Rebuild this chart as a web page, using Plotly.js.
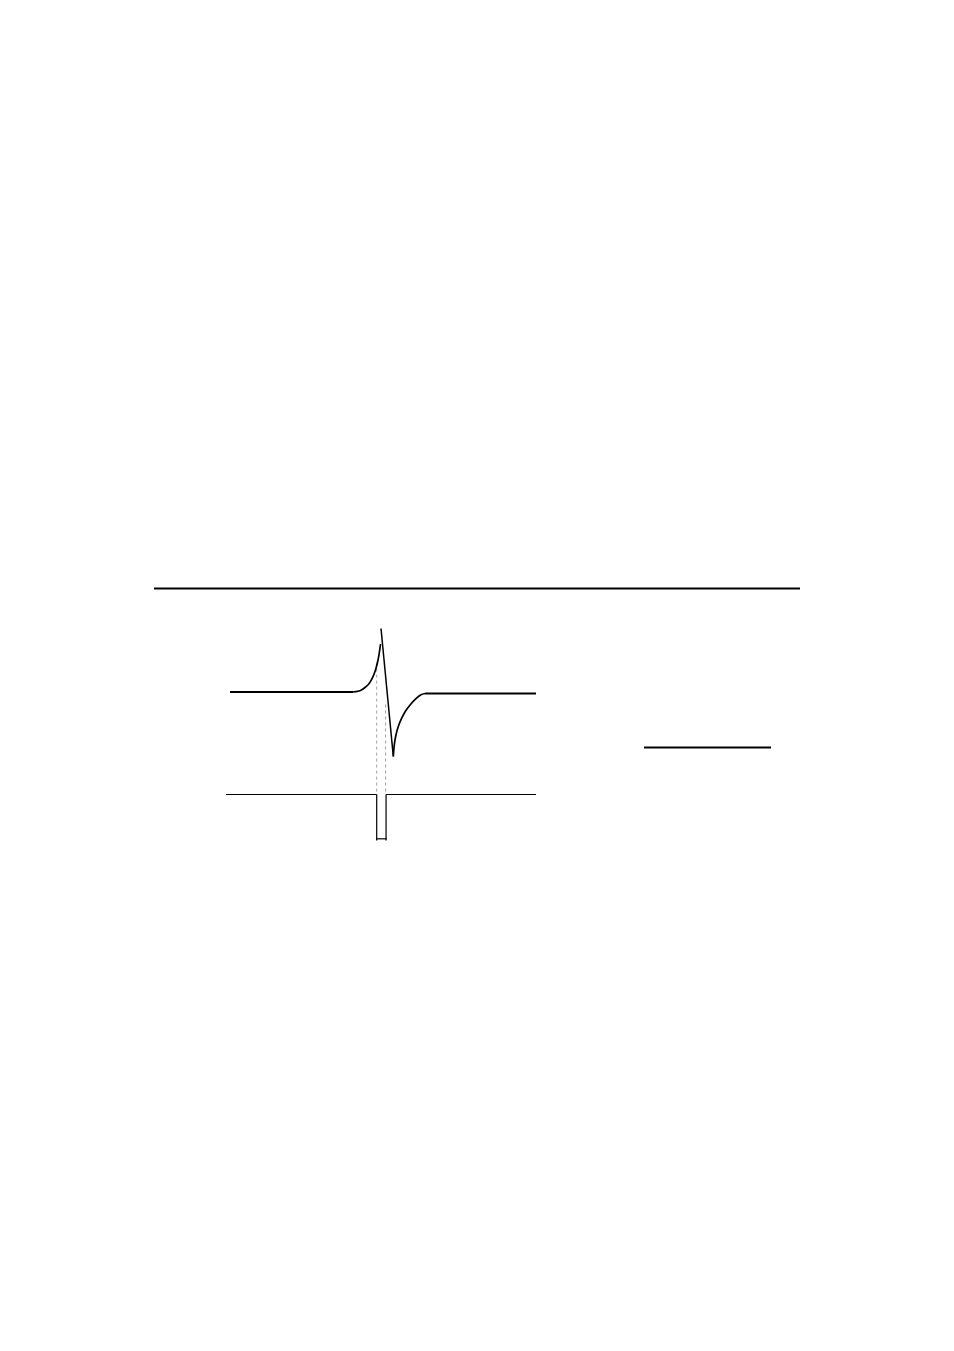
<!DOCTYPE html>
<html>
<head>
<meta charset="utf-8">
<script src="https://cdn.plot.ly/plotly-3.0.1.min.js"></script>
<style>html,body{margin:0;padding:0;background:#fff;}#chart{width:954px;height:1351px;}</style>
</head>
<body>
<div id="chart"></div>
<script>
// Response waveform (time units, amplitude units; baseline = 0)
const riseT = [0, 40.2, 42.48, 44.12, 45.42, 46.50, 47.39, 48.14, 48.69, 49.2];
const riseV = [0, 0, 0.02, 0.075, 0.137, 0.23, 0.342, 0.48, 0.62, 0.8];
const spikeT = [49.35, 53.37];
const spikeV = [1.058, -1.075];
const recoveryT = [53.37, 53.69, 54.25, 55.0, 56.11, 57.42, 59.05, 60.69, 62.42, 63.73, 100];
const recoveryV = [-1.075, -0.88, -0.713, -0.575, -0.437, -0.313, -0.203, -0.113, -0.045, -0.025, -0.025];

// Stimulus pulse trace (level offset below the response)
const stimLeftT = [-1.31, 47.94];
const stimRightT = [51.0, 100];
const stimLevel = -1.708;
const pulseEdgesT = [47.94, 51.0];
const pulseBottom = -2.475;
const pulseWidthT = [47.71, 51.21];
const pulseWidthLevel = -2.447;

// Guide (dotted) lines from the response down to the stimulus level
const guideT = [47.94, 50.85];
const guideTop = [0.49, -0.208];

// Separator rule above the figure and the short reference bar at right
const ruleT = [-24.84, 186.27];
const ruleLevel = 1.725;
const barT = [135.29, 176.80];
const barLevel = -0.925;

const traces = [];
const black = '#000';

traces.push({x: ruleT, y: [ruleLevel, ruleLevel], mode: 'lines', line: {color: black, width: 2.2}});
guideT.forEach((t, i) => traces.push({x: [t, t], y: [guideTop[i], stimLevel], mode: 'lines', line: {color: '#a0a0a0', width: 1, dash: 'dot'}}));
traces.push({x: riseT.slice(0, 2), y: riseV.slice(0, 2), mode: 'lines', line: {color: black, width: 2}});
traces.push({x: riseT.slice(1), y: riseV.slice(1), mode: 'lines', line: {color: black, width: 1.7, shape: 'spline', smoothing: 0.8}});
traces.push({x: spikeT, y: spikeV, mode: 'lines', line: {color: black, width: 1.5}});
traces.push({x: recoveryT.slice(0, recoveryT.length - 1), y: recoveryV.slice(0, recoveryV.length - 1), mode: 'lines', line: {color: black, width: 1.7, shape: 'spline', smoothing: 0.8}});
traces.push({x: recoveryT.slice(-2), y: recoveryV.slice(-2), mode: 'lines', line: {color: black, width: 2}});
traces.push({x: stimLeftT, y: [stimLevel, stimLevel], mode: 'lines', line: {color: black, width: 1.2}});
traces.push({x: stimRightT, y: [stimLevel, stimLevel], mode: 'lines', line: {color: black, width: 1.2}});
pulseEdgesT.forEach(t => traces.push({x: [t, t], y: [stimLevel, pulseBottom], mode: 'lines', line: {color: black, width: 1.2}}));
traces.push({x: pulseWidthT, y: [pulseWidthLevel, pulseWidthLevel], mode: 'lines', line: {color: black, width: 1.2}});
traces.push({x: barT, y: [barLevel, barLevel], mode: 'lines', line: {color: black, width: 2.2}});

const layout = {
  width: 954, height: 1351,
  margin: {l: 0, r: 0, t: 0, b: 0},
  paper_bgcolor: '#fff', plot_bgcolor: '#fff',
  showlegend: false, hovermode: false,
  xaxis: {range: [-30, 190], domain: [0.144864, 0.850524], visible: false, fixedrange: true},
  yaxis: {range: [-2.75, 1.9], domain: [0.365655, 0.572169], visible: false, fixedrange: true}
};

Plotly.newPlot('chart', traces, layout, {staticPlot: true, displayModeBar: false});
</script>
</body>
</html>
